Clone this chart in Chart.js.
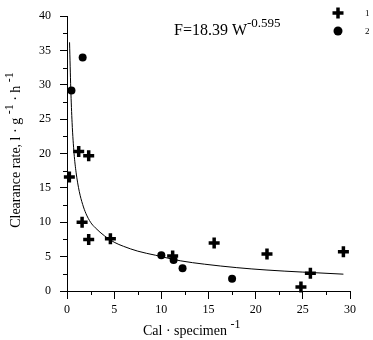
<!DOCTYPE html>
<html><head><meta charset="utf-8">
<script src="https://cdn.jsdelivr.net/npm/chart.js@4.4.1/dist/chart.umd.min.js"></script>
<style>html,body{margin:0;padding:0;background:#fff;overflow:hidden}#wrap{width:373px;height:340px;position:relative}canvas{display:block}</style>
</head><body><div id="wrap"><canvas id="c" width="373" height="340"></canvas></div>
<script>
// ---- data ----
const series1Label = '1';
const series2Label = '2';
const series1X = [0.25, 1.24, 2.3, 1.6, 2.3, 4.6, 11.2, 15.6, 21.2, 24.8, 25.8, 29.3];
const series1Y = [16.6, 20.3, 19.7, 10.0, 7.5, 7.6, 5.1, 7.0, 5.4, 0.6, 2.6, 5.7];
const series2X = [0.47, 1.66, 10.0, 11.3, 12.25, 17.5];
const series2Y = [29.2, 34.0, 5.2, 4.5, 3.3, 1.8];
const fitX = [0.27, 0.4, 0.54, 0.75, 0.96, 1.3, 1.66, 2.0, 2.5, 3.0, 4.0, 5.0, 6.0, 7.5, 9.4, 12, 14.6, 18, 21.2, 25, 29.3];
const fitY = [36.2, 29.5, 24.5, 20.0, 17.3, 14.5, 12.6, 11.3, 10.0, 9.2, 8.0, 7.1, 6.5, 5.8, 5.2, 4.4, 3.9, 3.4, 3.05, 2.75, 2.45];
const xTickLabels = ['0', '5', '10', '15', '20', '25', '30'];
const yTickLabels = ['0', '5', '10', '15', '20', '25', '30', '35', '40'];
const xTitleParts = [['Cal · specimen ', false], ['-1', true]];
const yTitleParts = [['Clearance rate, l · g ', false], ['-1', true], [' · h ', false], ['-1', true]];
const equationParts = [['F=18.39 W', false], ['-0.595', true]];

const FONT = '"Liberation Serif", "Times New Roman", serif';

function toPts(xs, ys) { return xs.map((x, i) => ({ x: x, y: ys[i] })); }

function drawRich(ctx, parts, x, y, size, supSize, supRise) {
  let cx = x;
  parts.forEach(([t, sup]) => {
    ctx.font = (sup ? supSize : size) + 'px ' + FONT;
    ctx.fillText(t, cx, sup ? y - supRise : y);
    cx += ctx.measureText(t).width;
  });
  return cx - x;
}
function richWidth(ctx, parts, size, supSize) {
  let w = 0;
  parts.forEach(([t, sup]) => { ctx.font = (sup ? supSize : size) + 'px ' + FONT; w += ctx.measureText(t).width; });
  return w;
}

const decor = {
  id: 'decor',
  afterDraw(chart) {
    const ctx = chart.ctx;
    const xs = chart.scales.x, ys = chart.scales.y;
    ctx.save();
    ctx.strokeStyle = '#000';
    ctx.lineWidth = 1;
    // minor ticks
    const xb = ys.getPixelForValue(0);
    for (let v = 2.5; v < 30; v += 5) {
      const px = Math.round(xs.getPixelForValue(v)) + 0.5;
      ctx.beginPath(); ctx.moveTo(px, xb); ctx.lineTo(px, xb + 4); ctx.stroke();
    }
    const yl = xs.getPixelForValue(0);
    for (let v = 2.5; v < 40; v += 5) {
      const py = Math.round(ys.getPixelForValue(v)) + 0.5;
      ctx.beginPath(); ctx.moveTo(yl, py); ctx.lineTo(yl - 4, py); ctx.stroke();
    }
    ctx.fillStyle = '#000';
    ctx.textBaseline = 'alphabetic';
    ctx.textAlign = 'left';
    // x title
    drawRich(ctx, xTitleParts, 143, 335, 14, 12, 7);
    // y title (rotated)
    const w = richWidth(ctx, yTitleParts, 14, 12);
    ctx.save();
    ctx.translate(20, 150 + w / 2);
    ctx.rotate(-Math.PI / 2);
    drawRich(ctx, yTitleParts, 0, 0, 14, 12, 7);
    ctx.restore();
    // equation
    drawRich(ctx, equationParts, 174, 35, 16, 13, 8);
    // legend
    const lx = 338;
    ctx.lineWidth = 3.5;
    ctx.beginPath();
    ctx.moveTo(lx - 5.5, 13); ctx.lineTo(lx + 5.5, 13);
    ctx.moveTo(lx, 7.5); ctx.lineTo(lx, 18.5);
    ctx.stroke();
    ctx.beginPath(); ctx.arc(lx, 31, 4.5, 0, Math.PI * 2); ctx.fill();
    ctx.font = '9px ' + FONT;
    ctx.fillText(series1Label, 365, 16);
    ctx.fillText(series2Label, 365, 34);
    ctx.restore();
  }
};

new Chart(document.getElementById('c'), {
  type: 'scatter',
  data: {
    datasets: [
      { label: series1Label, data: toPts(series1X, series1Y), pointStyle: 'cross', pointRadius: 5.5, pointBorderWidth: 3.5,
        borderColor: '#000', backgroundColor: '#000', pointHoverRadius: 5.5, clip: false },
      { label: series2Label, data: toPts(series2X, series2Y), pointStyle: 'circle', pointRadius: 4, pointBorderWidth: 0,
        borderColor: '#000', backgroundColor: '#000', clip: false },
      { label: 'fit', data: toPts(fitX, fitY), showLine: true, pointRadius: 0, borderColor: '#000', borderWidth: 1,
        cubicInterpolationMode: 'monotone', backgroundColor: '#000' }
    ]
  },
  options: {
    responsive: false,
    animation: false,
    devicePixelRatio: 1,
    layout: { padding: { left: 0, right: 23, top: 8, bottom: 0 } },
    plugins: { legend: { display: false }, tooltip: { enabled: false } },
    scales: {
      x: {
        type: 'linear', min: 0, max: 30,
        afterFit: s => { s.height = 49; },
        border: { display: true, color: '#000', width: 1 },
        grid: { drawOnChartArea: false, drawTicks: true, tickLength: 8, tickColor: '#000' },
        ticks: { stepSize: 5, color: '#000', padding: 4, font: { family: FONT, size: 12 },
          callback: (v) => xTickLabels.includes(String(v)) ? String(v) : '' }
      },
      y: {
        type: 'linear', min: 0, max: 40,
        afterFit: s => { s.width = 67; },
        border: { display: true, color: '#000', width: 1 },
        grid: { drawOnChartArea: false, drawTicks: true, tickLength: 7, tickColor: '#000' },
        ticks: { stepSize: 5, color: '#000', padding: 9, font: { family: FONT, size: 12 },
          callback: (v) => yTickLabels.includes(String(v)) ? String(v) : '' }
      }
    }
  },
  plugins: [decor]
});
</script>
</body></html>
